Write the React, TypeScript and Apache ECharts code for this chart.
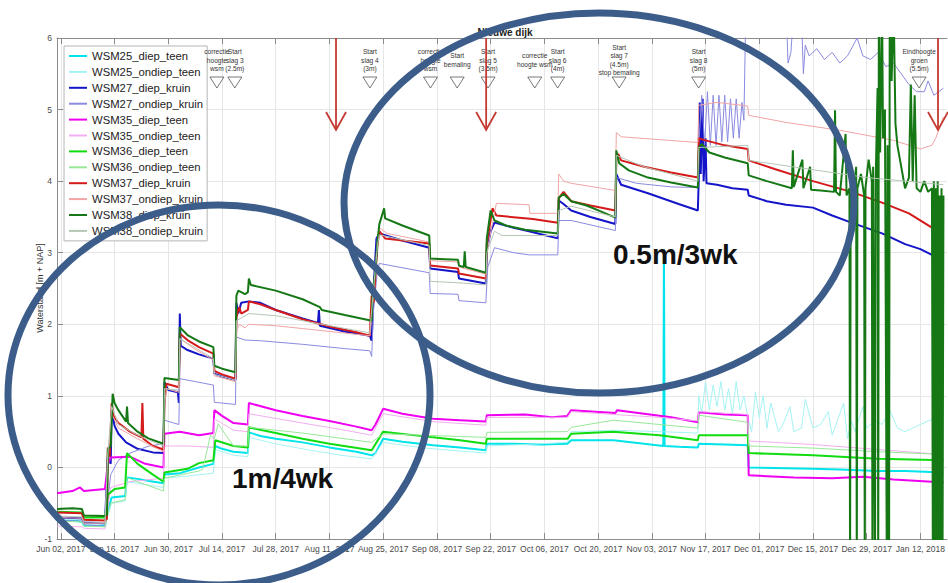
import React, { useEffect, useRef } from "react";
import * as echarts from "echarts";

type Pt = [string, number];

const FONT = "'Liberation Sans', Arial, Helvetica, sans-serif";

// Dates are "MM-DD" or "MM-DD HH"; June–December is 2017, January is 2018.
function toTime(s: string): number {
  const [d, h] = s.split(" ");
  const [m, dd] = d.split("-").map(Number);
  const y = m >= 6 ? 2017 : 2018;
  return new Date(y, m - 1, dd, h ? Number(h) : 0).getTime();
}

const seriesNames = [
  "WSM25_diep_teen",
  "WSM25_ondiep_teen",
  "WSM27_diep_kruin",
  "WSM27_ondiep_kruin",
  "WSM35_diep_teen",
  "WSM35_ondiep_teen",
  "WSM36_diep_teen",
  "WSM36_ondiep_teen",
  "WSM37_diep_kruin",
  "WSM37_ondiep_kruin",
  "WSM38_diep_kruin",
  "WSM38_ondiep_kruin",
];

const seriesColors = [
  "#00e4ea", "#a6f3f3", "#1414c8", "#8a8ae0",
  "#f000f0", "#f2aef0", "#10dc10", "#98e898",
  "#d41a1a", "#f2a4a4", "#157815", "#b6c6b6",
];

const seriesWidths = [2, 1, 2, 1, 2, 1, 2, 1, 2, 1, 2, 1];

const wsm25DiepTeen: Pt[] = [
  ["06-01", -0.75], ["06-05", -0.74], ["06-07 12", -0.76], ["06-08", -0.81], ["06-13 12", -0.82],
  ["06-14 06", -0.6], ["06-15 06", -0.42], ["06-18 18", -0.4], ["06-19 06", -0.14], ["06-22", -0.16],
  ["06-25", -0.19], ["06-28 18", -0.22], ["06-29", -0.1], ["07-03", -0.08], ["07-08", 0.0],
  ["07-11 18", 0.05], ["07-12 06", 0.3], ["07-14", 0.26], ["07-17", 0.22], ["07-20 18", 0.2],
  ["07-21", 0.49], ["07-24", 0.44], ["07-28", 0.4], ["08-04", 0.35], ["08-11", 0.28],
  ["08-18", 0.22], ["08-22", 0.17], ["08-23", 0.2], ["08-25", 0.4], ["08-30", 0.36],
  ["09-07", 0.31], ["09-14", 0.28], ["09-20 18", 0.24], ["09-21", 0.33], ["09-28", 0.33],
  ["10-05", 0.32], ["10-12", 0.33], ["10-13", 0.38], ["10-24", 0.38], ["11-01", 0.33],
  ["11-06", 0.3], ["11-06 04", 3.05], ["11-06 08", 0.3], ["11-10", 0.29], ["11-15", 0.28],
  ["11-15 06", 0.33], ["11-22", 0.32], ["11-28", 0.31], ["11-28 06", 0.0], ["12-08", -0.01],
  ["12-15", -0.02], ["12-22", -0.03], ["01-01", -0.05], ["01-08", -0.05], ["01-18", -0.07],
];

const wsm25OndiepTeen: Pt[] = [
  ["06-01", -0.72], ["06-07 12", -0.73], ["06-08", -0.78], ["06-13 12", -0.8], ["06-15 06", -0.5],
  ["06-18 18", -0.47], ["06-19 06", -0.2], ["06-24", -0.24], ["06-28 18", -0.28], ["06-29", -0.15],
  ["07-05", -0.12], ["07-11 18", -0.08], ["07-12 06", 0.25], ["07-17", 0.17], ["07-20 18", 0.15],
  ["07-21", 0.42], ["07-28", 0.33], ["08-06", 0.24], ["08-14", 0.17], ["08-22", 0.12],
  ["08-25", 0.35], ["09-05", 0.27], ["09-20 18", 0.2], ["09-21", 0.3], ["10-01", 0.32],
  ["10-12", 0.35], ["10-13", 0.5], ["10-24", 0.52], ["11-05", 0.5], ["11-15", 0.48],
  ["11-15 06", 1.0], ["11-16", 0.75], ["11-17", 1.2], ["11-18", 0.8], ["11-19", 1.15],
  ["11-20", 0.85], ["11-21", 1.2], ["11-22", 0.8], ["11-23", 1.1], ["11-24", 0.75],
  ["11-25", 1.2], ["11-26", 0.8], ["11-27", 1.0], ["11-28", 0.7], ["11-29", 0.5],
  ["11-30", 1.05], ["12-01", 0.7], ["12-02", 1.0], ["12-03", 0.55], ["12-04", 0.9],
  ["12-06", 0.5], ["12-07", 0.58], ["12-09", 0.85], ["12-10", 0.5], ["12-12", 0.55],
  ["12-13", 0.95], ["12-15", 0.55], ["12-17", 0.6], ["12-19", 0.78], ["12-20", 0.45],
  ["12-21", 0.6], ["12-23", 0.9], ["12-24", 0.4], ["12-25", 0.65], ["12-26", 0.5],
  ["12-28", 0.85], ["12-29", 0.55], ["12-31", 0.65], ["01-02", 0.6], ["01-04", 0.8],
  ["01-06", 0.55], ["01-08", 0.5], ["01-10", 0.55], ["01-12", 0.6], ["01-14", 0.65],
  ["01-18", 0.72],
];

const wsm27DiepKruin: Pt[] = [
  ["06-01", -0.7], ["06-07 12", -0.71], ["06-08", -0.77], ["06-13 12", -0.78], ["06-14 06", 0.15],
  ["06-15", 0.05], ["06-15 06", 0.8], ["06-16", 0.58], ["06-17", 0.47], ["06-19", 0.35],
  ["06-22", 0.26], ["06-26", 0.21], ["06-28 18", 0.2], ["06-29", 1.19], ["06-30", 1.08],
  ["07-02 12", 1.05], ["07-02 18", 0.9], ["07-03", 2.15], ["07-03 06", 1.7], ["07-05", 1.64],
  ["07-08", 1.58], ["07-11 18", 1.52], ["07-12", 1.31], ["07-14", 1.27], ["07-17 12", 1.22],
  ["07-17 18", 2.3], ["07-18 06", 2.15], ["07-19", 2.3], ["07-21", 2.32], ["07-24", 2.3],
  ["07-28", 2.2], ["08-04", 2.08], ["08-08", 2.02], ["08-08 06", 2.2], ["08-08 12", 1.98],
  ["08-15", 1.9], ["08-21 12", 1.84], ["08-22", 1.77], ["08-22 12", 2.5], ["08-23 06", 3.2],
  ["08-24", 3.27], ["08-30", 3.17], ["09-06", 3.07], ["09-06 06", 2.78], ["09-13 12", 2.73],
  ["09-13 18", 2.64], ["09-20 18", 2.57], ["09-21", 3.03], ["09-22", 3.3], ["09-23", 3.42],
  ["09-28", 3.35], ["10-02", 3.3], ["10-09 12", 3.2], ["10-09 18", 3.73], ["10-11", 3.68],
  ["10-13", 3.59], ["10-18", 3.5], ["10-24 12", 3.4], ["10-24 18", 4.1], ["10-26", 3.95],
  ["11-02", 3.83], ["11-10", 3.68], ["11-15", 3.59], ["11-15 06", 4.05], ["11-15 12", 5.1],
  ["11-15 18", 4.1], ["11-16 06", 5.15], ["11-16 12", 4.0], ["11-17", 4.6], ["11-17 06", 3.97],
  ["11-20", 3.95], ["11-24", 3.9], ["11-28", 3.88], ["11-28 06", 3.8], ["12-03", 3.72],
  ["12-08", 3.67], ["12-15", 3.63], ["12-20", 3.52], ["12-25", 3.42], ["01-02", 3.27],
  ["01-08", 3.12], ["01-12", 3.05], ["01-15", 2.97], ["01-18", 2.92],
];

const wsm27OndiepKruin: Pt[] = [
  ["06-01", -0.74], ["06-07 12", -0.75], ["06-08", -0.8], ["06-13 12", -0.82], ["06-15", -0.1],
  ["06-17", 0.1], ["06-20", 0.2], ["06-25", 0.3], ["06-28 18", 0.33], ["06-29", 0.66],
  ["07-02 18", 0.6], ["07-03", 1.24], ["07-07", 1.2], ["07-11 18", 1.15], ["07-12", 0.91],
  ["07-17 12", 0.88], ["07-17 18", 1.82], ["07-20", 1.78], ["07-24", 1.77], ["08-04", 1.72],
  ["08-15", 1.66], ["08-21 12", 1.63], ["08-22", 1.55], ["08-22 12", 2.2], ["08-23 12", 2.75],
  ["08-24", 2.85], ["08-27", 2.82], ["09-06", 2.72], ["09-06 06", 2.43], ["09-13 12", 2.42],
  ["09-13 18", 2.33], ["09-20 18", 2.3], ["09-21 06", 2.8], ["09-23", 3.07], ["09-28", 3.0],
  ["10-02", 2.97], ["10-09 12", 2.97], ["10-09 18", 3.45], ["10-13", 3.45], ["10-24 12", 3.31],
  ["10-24 18", 4.05], ["10-30", 3.97], ["11-08", 3.92], ["11-15", 3.91], ["11-15 06", 4.5],
  ["11-16", 5.2], ["11-16 18", 4.5], ["11-17 12", 5.25], ["11-18 06", 4.5], ["11-19", 5.2],
  ["11-19 18", 4.5], ["11-20 12", 5.2], ["11-21 06", 4.55], ["11-22", 5.2], ["11-22 18", 4.55],
  ["11-23 12", 5.15], ["11-24 06", 4.6], ["11-25", 5.15], ["11-25 18", 4.6], ["11-26 12", 5.1],
  ["11-27", 4.85], ["11-27 12", 6.4], ["12-08", 6.4], ["12-08 12", 5.65], ["12-09 06", 5.8],
  ["12-10", 6.4], ["12-12", 6.3], ["12-12 12", 5.5], ["12-13", 5.9], ["12-14", 5.75],
  ["12-16", 5.85], ["12-18", 5.7], ["12-20", 5.8], ["12-22", 5.65], ["12-24", 5.75],
  ["12-26 12", 6.0], ["12-28", 5.75], ["12-30", 5.7], ["01-01", 5.8], ["01-03", 5.6],
  ["01-05", 5.65], ["01-07", 5.5], ["01-09", 5.35], ["01-11", 5.25], ["01-13", 5.25],
  ["01-14", 5.4], ["01-15 12", 5.2], ["01-18", 5.3],
];

const wsm35DiepTeen: Pt[] = [
  ["06-01", -0.36], ["06-05", -0.33], ["06-07", -0.28], ["06-08", -0.33], ["06-13 12", -0.3],
  ["06-14 06", 0.05], ["06-15", 0.14], ["06-20", 0.15], ["06-24", 0.05], ["06-28 18", 0.0],
  ["06-29", 0.47], ["07-03", 0.5], ["07-08", 0.45], ["07-11 18", 0.48], ["07-12", 0.8],
  ["07-14", 0.72], ["07-17", 0.62], ["07-20 18", 0.6], ["07-21", 0.9], ["07-28", 0.8],
  ["08-04", 0.72], ["08-11", 0.65], ["08-18", 0.57], ["08-22", 0.52], ["08-23", 0.6],
  ["08-25", 0.82], ["08-30", 0.75], ["09-07", 0.68], ["09-14", 0.66], ["09-20 18", 0.64],
  ["09-21", 0.73], ["10-01", 0.74], ["10-08", 0.7], ["10-12", 0.72], ["10-13", 0.8],
  ["10-24 12", 0.76], ["10-25", 0.8], ["11-01", 0.75], ["11-08", 0.7], ["11-15", 0.63],
  ["11-15 06", 0.77], ["11-22", 0.74], ["11-28", 0.73], ["11-28 06", -0.11], ["12-10", -0.14],
  ["12-20", -0.15], ["12-28", -0.13], ["01-05", -0.17], ["01-15", -0.2], ["01-18", -0.21],
];

const wsm35OndiepTeen: Pt[] = [
  ["06-01", -0.82], ["06-07 12", -0.83], ["06-08", -0.85], ["06-13 12", -0.86], ["06-15", -0.28],
  ["06-20", -0.2], ["06-28 18", -0.15], ["06-29", 0.3], ["07-05", 0.3], ["07-11 18", 0.28],
  ["07-12", 0.68], ["07-17", 0.52], ["07-20 18", 0.5], ["07-21", 0.75], ["08-04", 0.62],
  ["08-14", 0.53], ["08-22", 0.45], ["08-25", 0.75], ["09-07", 0.64], ["09-20 18", 0.59],
  ["09-21", 0.7], ["10-12", 0.7], ["10-13", 0.78], ["10-24", 0.74], ["11-05", 0.7],
  ["11-15", 0.65], ["11-15 06", 0.78], ["11-28", 0.74], ["11-28 06", 0.37], ["12-15", 0.32],
  ["01-01", 0.25], ["01-18", 0.18],
];

const wsm36DiepTeen: Pt[] = [
  ["06-01", -0.62], ["06-07 12", -0.63], ["06-08", -0.7], ["06-13 12", -0.7], ["06-14 06", -0.38],
  ["06-16", -0.3], ["06-18 18", -0.28], ["06-19 06", 0.2], ["06-22", 0.05], ["06-26", -0.1],
  ["06-28 18", -0.2], ["06-29", -0.07], ["07-05", -0.02], ["07-08", 0.06], ["07-11 18", 0.1],
  ["07-12 06", 0.38], ["07-17", 0.3], ["07-20 18", 0.28], ["07-21", 0.56], ["07-28", 0.48],
  ["08-04", 0.4], ["08-11", 0.33], ["08-22", 0.24], ["08-25", 0.5], ["09-07", 0.42],
  ["09-14", 0.38], ["09-20 18", 0.33], ["09-21", 0.4], ["10-12", 0.4], ["10-13", 0.47],
  ["10-24", 0.5], ["11-05", 0.45], ["11-15", 0.38], ["11-15 06", 0.45], ["11-28", 0.45],
  ["11-28 06", 0.2], ["12-15", 0.17], ["01-01", 0.12], ["01-18", 0.1],
];

const wsm36OndiepTeen: Pt[] = [
  ["06-01", -0.75], ["06-07 12", -0.76], ["06-08", -0.82], ["06-13 12", -0.83], ["06-15", -0.5],
  ["06-18 18", -0.45], ["06-19 06", -0.14], ["06-22", -0.2], ["06-28 18", -0.33], ["06-29", -0.15],
  ["07-08", -0.05], ["07-09", -0.02], ["07-11", 0.45], ["07-12", 0.4], ["07-13", 0.61],
  ["07-15", 0.45], ["07-17", 0.3], ["07-20 18", 0.3], ["07-21", 0.56], ["08-04", 0.48],
  ["08-22", 0.35], ["08-25", 0.47], ["09-20 18", 0.42], ["09-21", 0.49], ["10-12", 0.5],
  ["10-13", 0.56], ["10-24", 0.66], ["11-15", 0.55], ["11-15 06", 0.73], ["11-28", 0.63],
  ["11-28 06", 0.3], ["12-15", 0.27], ["01-01", 0.22], ["01-18", 0.18],
];

const wsm37DiepKruin: Pt[] = [
  ["06-01", -0.63], ["06-07 12", -0.64], ["06-08", -0.73], ["06-13 12", -0.74], ["06-14", -0.72],
  ["06-14 06", 0.28], ["06-14 18", 0.15], ["06-15 06", 0.9], ["06-15 18", 0.72], ["06-17", 0.62],
  ["06-20", 0.5], ["06-23", 0.42], ["06-23 06", 0.9], ["06-23 12", 0.4], ["06-26", 0.3],
  ["06-28 18", 0.25], ["06-29", 0.9], ["06-29 12", 1.17], ["07-02 18", 1.12], ["07-03", 1.87],
  ["07-05", 1.78], ["07-08", 1.68], ["07-11 18", 1.59], ["07-12", 1.35], ["07-14", 1.3],
  ["07-17 12", 1.24], ["07-17 18", 2.1], ["07-18 12", 2.24], ["07-19", 2.15], ["07-20 18", 2.2],
  ["07-21", 2.32], ["07-24", 2.28], ["07-28", 2.2], ["08-04", 2.07], ["08-11", 1.97],
  ["08-18", 1.89], ["08-21 12", 1.84], ["08-22", 2.4], ["08-22 12", 2.3], ["08-23 12", 3.1],
  ["08-24", 3.3], ["08-25 12", 3.2], ["09-06", 3.13], ["09-06 06", 2.82], ["09-13 12", 2.78],
  ["09-13 18", 2.71], ["09-20 18", 2.64], ["09-21", 3.13], ["09-22 12", 3.62], ["09-23 12", 3.52],
  ["10-03", 3.47], ["10-09 12", 3.42], ["10-09 18", 3.76], ["10-11", 3.85], ["10-13", 3.72],
  ["10-18", 3.66], ["10-24 12", 3.59], ["10-24 18", 4.33], ["10-25 06", 4.38], ["10-26", 4.29],
  ["11-01", 4.2], ["11-08", 4.12], ["11-15", 4.05], ["11-15 06", 4.6], ["11-17", 4.57],
  ["11-22", 4.5], ["11-28", 4.45], ["11-28 06", 4.29], ["12-05", 4.17], ["12-15", 4.0],
  ["12-25", 3.85], ["01-02", 3.7], ["01-09", 3.55], ["01-15", 3.35], ["01-18", 3.3],
];

const wsm37OndiepKruin: Pt[] = [
  ["06-01", -0.7], ["06-07 12", -0.71], ["06-08", -0.78], ["06-13 12", -0.78], ["06-14 06", 0.1],
  ["06-15 06", 0.75], ["06-17", 0.55], ["06-22", 0.4], ["06-28 18", 0.22], ["06-29", 0.85],
  ["06-29 12", 1.1], ["07-02 18", 1.05], ["07-03", 1.8], ["07-07", 1.65], ["07-11 18", 1.5],
  ["07-12", 1.28], ["07-17 12", 1.2], ["07-17 18", 1.9], ["07-18 12", 2.0], ["07-20", 1.95],
  ["07-21", 2.0], ["07-28", 1.98], ["08-11", 1.9], ["08-21 12", 1.84], ["08-22 12", 2.4],
  ["08-23 12", 3.2], ["08-24", 3.35], ["08-26", 3.27], ["09-06", 3.15], ["09-06 06", 2.89],
  ["09-13 12", 2.87], ["09-13 18", 2.8], ["09-20 18", 2.7], ["09-21", 3.0], ["09-23 12", 3.69],
  ["10-02", 3.67], ["10-02 06", 3.55], ["10-09 12", 3.55], ["10-09 18", 4.1], ["10-11", 4.0],
  ["10-13", 3.97], ["10-24 12", 3.87], ["10-24 18", 4.68], ["10-26", 4.62], ["11-15", 4.54],
  ["11-15 06", 5.06], ["11-20", 5.1], ["11-28", 5.05], ["11-28 06", 4.92], ["12-08", 4.82],
  ["12-22", 4.71], ["01-05", 4.57], ["01-12", 4.45], ["01-15", 4.5], ["01-16", 4.6],
  ["01-18", 4.9],
];

const wsm38DiepKruin: Pt[] = [
  ["06-01", -0.58], ["06-05", -0.57], ["06-07 12", -0.58], ["06-08", -0.67], ["06-13 12", -0.68],
  ["06-14", -0.66], ["06-14 06", 0.25], ["06-15", 0.3], ["06-15 12", 1.03], ["06-16", 0.9],
  ["06-17", 0.8], ["06-19", 0.64], ["06-19 06", 0.85], ["06-19 12", 0.62], ["06-22", 0.5],
  ["06-25", 0.4], ["06-28 18", 0.33], ["06-29", 1.25], ["07-02 18", 1.22], ["07-03", 1.96],
  ["07-05", 1.85], ["07-08", 1.76], ["07-11 18", 1.68], ["07-12", 1.42], ["07-14", 1.38],
  ["07-17 12", 1.33], ["07-17 18", 2.4], ["07-18 06", 2.47], ["07-20", 2.42], ["07-20 18", 2.45],
  ["07-21", 2.64], ["07-21 12", 2.55], ["07-28", 2.47], ["08-04", 2.35], ["08-08 12", 2.24],
  ["08-09", 2.2], ["08-15", 2.13], ["08-22", 2.05], ["08-22 06", 2.45], ["08-23", 2.75],
  ["08-23 12", 3.15], ["08-24", 3.4], ["08-25 06", 3.62], ["08-25 12", 3.48], ["08-30", 3.38],
  ["09-03", 3.3], ["09-06", 3.24], ["09-06 06", 2.92], ["09-10", 2.91], ["09-13 12", 2.9],
  ["09-13 18", 2.82], ["09-15", 2.8], ["09-15 06", 3.02], ["09-15 12", 2.8], ["09-20 18", 2.72],
  ["09-21", 3.2], ["09-22", 3.59], ["09-23", 3.45], ["09-26", 3.38], ["10-01", 3.32],
  ["10-09 12", 3.27], ["10-09 18", 3.77], ["10-11", 3.82], ["10-13", 3.72], ["10-17", 3.66],
  ["10-21", 3.57], ["10-24 12", 3.49], ["10-24 18", 4.43], ["10-25 12", 4.25], ["10-28", 4.15],
  ["11-02", 4.05], ["11-08", 3.98], ["11-15", 3.91], ["11-15 06", 4.47], ["11-16", 4.52],
  ["11-18", 4.4], ["11-22", 4.33], ["11-28", 4.25], ["11-28 06", 4.08], ["12-03", 4.0],
  ["12-09 12", 3.9], ["12-09 18", 4.43], ["12-10", 3.92], ["12-12 06", 4.3], ["12-12 12", 3.9],
  ["12-14 06", 4.2], ["12-14 12", 3.88], ["12-17", 3.87], ["12-20 12", 3.85], ["12-20 18", 4.99],
  ["12-21", 3.85], ["12-22", 3.8], ["12-23 12", 4.66], ["12-23 18", 3.8], ["12-24 12", 3.9],
  ["12-24 16", -1.6], ["12-24 20", 4.1], ["12-25 12", 3.8], ["12-26 06", 4.2], ["12-26 10", -1.6],
  ["12-26 14", 3.9], ["12-27 12", 4.1], ["12-28 08", 3.8], ["12-28 12", -1.6], ["12-28 16", 3.9],
  ["12-29 12", 4.3], ["12-30 08", 4.0], ["12-30 12", -1.6], ["12-30 16", 4.2], ["12-31 04", -1.6],
  ["12-31 08", 4.0], ["12-31 20", 5.3], ["01-01", -1.6], ["01-01 04", 6.5], ["01-01 12", 4.4],
  ["01-02", 6.5], ["01-02 06", 4.6], ["01-02 18", 5.0], ["01-03 06", -1.6], ["01-03 10", 4.5],
  ["01-03 20", -1.6], ["01-04", 6.5], ["01-04 12", 5.4], ["01-05", 6.5], ["01-05 12", 4.8],
  ["01-06", 4.5], ["01-07", 4.2], ["01-08", 3.9], ["01-09", 4.05], ["01-09 12", 5.35],
  ["01-10", 4.0], ["01-10 12", 5.2], ["01-11", 3.9], ["01-12", 3.85], ["01-13", 4.0],
  ["01-14", 3.85], ["01-15", 3.9], ["01-15 06", -1.6], ["01-15 12", 4.0], ["01-15 18", -1.6],
  ["01-16", 3.9], ["01-16 06", -1.6], ["01-16 12", 4.0], ["01-16 18", -1.6], ["01-17", 3.8],
  ["01-17 06", -1.6], ["01-17 12", 3.9], ["01-17 18", -1.6], ["01-18", 3.8],
];

const wsm38OndiepKruin: Pt[] = [
  ["06-01", -0.68], ["06-07 12", -0.69], ["06-08", -0.76], ["06-13 12", -0.77], ["06-14 06", 0.2],
  ["06-15 06", 0.85], ["06-17", 0.6], ["06-22", 0.45], ["06-28 18", 0.3], ["06-29", 1.1],
  ["07-02 18", 1.08], ["07-03", 1.8], ["07-11 18", 1.52], ["07-12", 1.3], ["07-17 12", 1.22],
  ["07-17 18", 2.05], ["07-21", 2.15], ["07-28", 2.12], ["08-11", 1.98], ["08-21 12", 1.88],
  ["08-22 12", 2.5], ["08-23 12", 3.1], ["08-24", 3.25], ["09-06", 3.1], ["09-06 06", 2.6],
  ["09-13 12", 2.58], ["09-20 18", 2.55], ["09-21", 3.0], ["09-23", 3.3], ["09-25", 3.24],
  ["10-09 12", 3.24], ["10-09 18", 3.59], ["10-13", 3.65], ["10-24 12", 3.5], ["10-24 18", 4.36],
  ["11-01", 4.2], ["11-15", 4.0], ["11-15 06", 4.47], ["11-28", 4.5], ["11-28 06", 4.29],
  ["12-15", 4.16], ["12-29", 4.05], ["01-18", 3.95],
];

const seriesData: Pt[][] = [
  wsm25DiepTeen, wsm25OndiepTeen, wsm27DiepKruin, wsm27OndiepKruin,
  wsm35DiepTeen, wsm35OndiepTeen, wsm36DiepTeen, wsm36OndiepTeen,
  wsm37DiepKruin, wsm37OndiepKruin, wsm38DiepKruin, wsm38OndiepKruin,
];

// Two-weekly date ticks
const xTickDates = [
  "06-02", "06-16", "06-30", "07-14", "07-28", "08-11", "08-25", "09-08", "09-22",
  "10-06", "10-20", "11-03", "11-17", "12-01", "12-15", "12-29", "01-12",
];

const axisStart = "06-01";
const axisEnd = "01-18 22";

// Construction events along the top
const eventDates = [
  "07-12 16", "07-17 08", "08-21 13", "09-06 08", "09-13 07", "09-21 08",
  "10-03 12", "10-09 11", "10-25 12", "11-15 05", "01-11 16",
];
const eventLabels = [
  "correctie\nhoogte\nwsm",
  "Start\nslag 3\n(2.5m)",
  "Start\nslag 4\n(3m)",
  "correctie\nhoogte\nwsm",
  "Start\nbemaling",
  "Start\nslag 5\n(3.5m)",
  "correctie\nhoogte wsm",
  "Start\nslag 6\n(4m)",
  "Start\nslag 7\n(4.5m)\nstop bemaling",
  "Start\nslag 8\n(5m)",
  "Eindhoogte\ngroen\n(5.5m)",
];

const arrowDates = ["08-12 17", "09-20 20", "01-16 14"];

const MONTHS = ["Jan", "Feb", "Mar", "Apr", "May", "Jun", "Jul", "Aug", "Sep", "Oct", "Nov", "Dec"];
function fmtDate(v: number): string {
  const d = new Date(v);
  const dd = String(d.getDate()).padStart(2, "0");
  return `${MONTHS[d.getMonth()]} ${dd}, ${d.getFullYear()}`;
}

const AXIS_GREY = "#8c8c8c";
const GRID_GREY = "#e6e6e6";
const ARROW_RED = "#c43a32";
const RING_BLUE = "#3c5d8a";

export default function App() {
  const ref = useRef<HTMLDivElement>(null);

  useEffect(() => {
    if (!ref.current) return;
    const chart = echarts.init(ref.current, undefined, { renderer: "svg" });
    const tickValues = xTickDates.map(toTime);
    const xMin = toTime(axisStart);
    const xMax = toTime(axisEnd);

    chart.setOption({
      animation: false,
      backgroundColor: "#ffffff",
      grid: { left: 57, right: -5, top: 38, bottom: 44, containLabel: false },
      legend: {
        data: seriesNames,
        orient: "vertical",
        left: 64,
        top: 46,
        padding: [3, 4, 3, 4],
        itemWidth: 18,
        itemHeight: 14,
        itemGap: 1.9,
        selectedMode: false,
        backgroundColor: "#ffffff",
        borderColor: "#b4b4b4",
        borderWidth: 1,
        // only the line sample is shown, no marker
        itemStyle: { opacity: 0 },
        textStyle: { fontFamily: FONT, fontSize: 11.3, color: "#222", lineHeight: 14 },
        z: 20,
      },
      xAxis: [
        {
          type: "value",
          min: xMin,
          max: xMax,
          position: "bottom",
          axisLine: { show: true, onZero: false, lineStyle: { color: AXIS_GREY } },
          axisTick: { show: true, inside: true, length: 6, customValues: tickValues, lineStyle: { color: AXIS_GREY } },
          axisLabel: {
            customValues: tickValues,
            formatter: (v: number) => fmtDate(v),
            fontFamily: FONT,
            fontSize: 8.5,
            color: "#4a4a4a",
            margin: 5,
          },
          splitLine: { show: true, lineStyle: { color: GRID_GREY, width: 1 } },
        },
        {
          type: "value",
          min: xMin,
          max: xMax,
          position: "top",
          axisLine: { show: true, onZero: false, lineStyle: { color: AXIS_GREY } },
          axisTick: { show: true, inside: true, length: 6, customValues: tickValues, lineStyle: { color: AXIS_GREY } },
          axisLabel: { show: false },
          splitLine: { show: false },
        },
      ],
      yAxis: {
        type: "value",
        min: -1,
        max: 6,
        interval: 1,
        axisLine: { show: true, lineStyle: { color: AXIS_GREY } },
        axisTick: { show: true, inside: true, length: 6, lineStyle: { color: AXIS_GREY } },
        axisLabel: { fontFamily: FONT, fontSize: 8.5, color: "#4a4a4a", margin: 5 },
        splitLine: { show: true, lineStyle: { color: GRID_GREY, width: 1 } },
      },
      series: seriesNames.map((name, i) => ({
        name,
        type: "line",
        xAxisIndex: 0,
        data: seriesData[i].map(([d, v]) => [toTime(d), v]),
        symbol: "none",
        showSymbol: false,
        clip: true,
        lineStyle: { color: seriesColors[i], width: seriesWidths[i] },
        itemStyle: { color: seriesColors[i] },
        emphasis: { disabled: true },
      })),
    });

    const px = (d: string) => chart.convertToPixel({ xAxisIndex: 0 }, toTime(d)) as number;
    const graphic: any[] = [];

    // vertical axis title, centred on the plot height
    graphic.push({
      type: "text",
      x: 40,
      y: 288,
      rotation: Math.PI / 2,
      z: 30,
      style: { text: "Waterstand [m + NAP]", fontFamily: FONT, fontSize: 9, fill: "#333", align: "center", verticalAlign: "middle" },
    });

    graphic.push({
      type: "text",
      x: 505,
      y: 32,
      z: 30,
      style: { text: "Nieuwe dijk", fontFamily: FONT, fontSize: 10, fontWeight: "bold", fill: "#222", align: "center", verticalAlign: "middle" },
    });

    eventDates.forEach((d, i) => {
      const x = px(d);
      graphic.push({
        type: "text",
        x,
        y: 60,
        z: 30,
        style: { text: eventLabels[i], fontFamily: FONT, fontSize: 6.6, lineHeight: 8.5, fill: "#333", align: "center", verticalAlign: "middle" },
      });
      graphic.push({
        type: "polygon",
        z: 30,
        shape: { points: [[x - 7, 77], [x + 7, 77], [x, 88]] },
        style: { fill: "none", stroke: "#555", lineWidth: 0.8 },
      });
    });

    arrowDates.forEach((d) => {
      const x = px(d);
      graphic.push({ type: "line", z: 31, shape: { x1: x, y1: 38, x2: x, y2: 130 }, style: { stroke: ARROW_RED, lineWidth: 1.8 } });
      graphic.push({
        type: "polyline",
        z: 31,
        shape: { points: [[x - 10, 112], [x, 130], [x + 10, 112]] },
        style: { stroke: ARROW_RED, lineWidth: 1.8, fill: "none" },
      });
    });

    graphic.push({
      type: "ellipse",
      z: 100,
      shape: { cx: 219, cy: 395, rx: 211, ry: 190 },
      style: { fill: "none", stroke: RING_BLUE, lineWidth: 7 },
    });
    graphic.push({
      type: "ellipse",
      z: 100,
      shape: { cx: 599, cy: 203, rx: 255, ry: 190 },
      style: { fill: "none", stroke: RING_BLUE, lineWidth: 7 },
    });
    graphic.push({
      type: "text",
      x: 232,
      y: 492,
      z: 101,
      style: { text: "1m/4wk", fontFamily: FONT, fontSize: 28, fontWeight: "bold", fill: "#111", align: "left", verticalAlign: "bottom" },
    });
    graphic.push({
      type: "text",
      x: 613,
      y: 268,
      z: 101,
      style: { text: "0.5m/3wk", fontFamily: FONT, fontSize: 28, fontWeight: "bold", fill: "#111", align: "left", verticalAlign: "bottom" },
    });

    chart.setOption({ graphic });

    return () => chart.dispose();
  }, []);

  return (
    <div
      ref={ref}
      style={{ position: "fixed", left: 0, top: 0, width: 948, height: 583, background: "#fff" }}
    />
  );
}
